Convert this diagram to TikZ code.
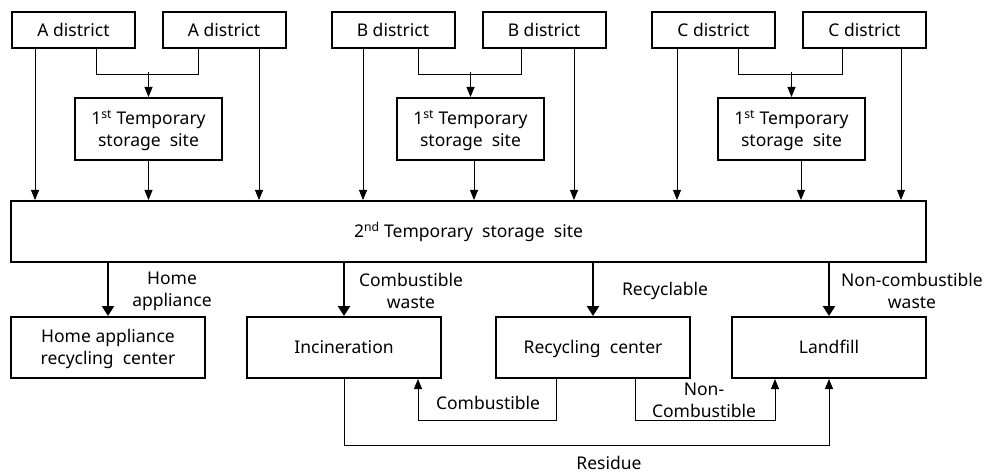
\documentclass[tikz,border=0pt]{standalone}
\usepackage{fontspec}
\setmainfont{Noto Sans}
\usetikzlibrary{arrows.meta}
\begin{document}
\begin{tikzpicture}[x=1pt,y=-1pt,
  every node/.style={font=\fontsize{17.5}{22}\selectfont},
  box/.style={draw,line width=2pt,inner sep=0pt,align=center,minimum height=36pt},
  one/.style={text height=14pt,text depth=1.5pt},
  two/.style={text depth=0.5pt},
  dist/.style={box,one,minimum width=123pt,minimum height=36pt},
  first/.style={box,two,minimum width=147pt,minimum height=62pt},
  dest/.style={box,minimum width=194pt,minimum height=61pt},
  lbl/.style={align=center,inner sep=0pt},
  thinarr/.style={line width=0.9pt,-{Triangle[length=10pt,width=8pt]}},
  thickarr/.style={line width=2.4pt,-{Triangle[length=10pt,width=12pt]}},
  conn/.style={line width=0.9pt}]
\useasboundingbox (0,0) rectangle (988,473);
% districts
\node[dist] (A1) at (73.5,30) {A district};
\node[dist] (A2) at (224,30) {A district};
\node[dist] (B1) at (393,30) {B district};
\node[dist] (B2) at (544,30) {B district};
\node[dist] (C1) at (713.5,30) {C district};
\node[dist] (C2) at (864.5,30) {C district};
% first storage
\node[first] (SA) at (148.5,129) {1\textsuperscript{st} Temporary\\storage\ \ site};
\node[first] (SB) at (470.5,129) {1\textsuperscript{st} Temporary\\storage\ \ site};
\node[first] (SC) at (791.5,129) {1\textsuperscript{st} Temporary\\storage\ \ site};
% second storage
\node[box,one,minimum width=915pt,minimum height=61pt] (S2) at (468.5,231.5) {2\textsuperscript{nd} Temporary\ \ storage\ \ site};
% destinations
\node[dest,two] (H) at (108,347.5) {Home appliance\\recycling\ \ center};
\node[dest,one] (I) at (344,347.5) {Incineration};
\node[dest,one] (R) at (593,347.5) {Recycling\ \ center};
\node[dest,one] (L) at (829,347.5) {Landfill};
% A group
\draw[thinarr] ([xshift=-38.5pt]A1.south) -- ([xshift=-38.5pt]A1.south |- S2.north);
\draw[thinarr] ([xshift=35pt]A2.south) -- ([xshift=35pt]A2.south |- S2.north);
\draw[conn] ([xshift=22.5pt]A1.south) -- ++(0,25) -| ([xshift=-26pt]A2.south);
\draw[thinarr] ([yshift=25pt]SA.north) -- (SA.north);
\draw[thinarr] (SA.south) -- (SA.south |- S2.north);
% B group
\draw[thinarr] ([xshift=-30pt]B1.south) -- ([xshift=-30pt]B1.south |- S2.north);
\draw[thinarr] ([xshift=30pt]B2.south) -- ([xshift=30pt]B2.south |- S2.north);
\draw[conn] ([xshift=25pt]B1.south) -- ++(0,25) -| ([xshift=-23pt]B2.south);
\draw[thinarr] ([yshift=25pt]SB.north) -- (SB.north);
\draw[thinarr] ([xshift=3.5pt]SB.south) -- ([xshift=3.5pt]SB.south |- S2.north);
% C group
\draw[thinarr] ([xshift=-36.5pt]C1.south) -- ([xshift=-36.5pt]C1.south |- S2.north);
\draw[thinarr] ([xshift=36.5pt]C2.south) -- ([xshift=36.5pt]C2.south |- S2.north);
\draw[conn] ([xshift=24.5pt]C1.south) -- ++(0,25) -| ([xshift=-22.5pt]C2.south);
\draw[thinarr] ([yshift=25pt]SC.north) -- (SC.north);
\draw[thinarr] ([xshift=9.5pt]SC.south) -- ([xshift=9.5pt]SC.south |- S2.north);
% second storage to destinations
\draw[thickarr] (S2.south -| H.north) -- (H.north);
\draw[thickarr] (S2.south -| I.north) -- (I.north);
\draw[thickarr] (S2.south -| R.north) -- (R.north);
\draw[thickarr] (S2.south -| L.north) -- (L.north);
\node[lbl] (lh) at (172,291) {Home\\appliance};
\node[lbl] (lc) at (411,291) {Combustible\\waste};
\node[lbl] (lr) at (665,291) {Recyclable};
\node[lbl] (ln) at (912,291) {Non-combustible\\waste};
% bottom flows
\draw[thinarr] ([xshift=-37pt]R.south) |- ([xshift=74pt,yshift=-41pt]I.south) -- ([xshift=74pt]I.south);
\draw[thinarr] ([xshift=42pt]R.south) |- ([xshift=-54pt,yshift=-41pt]L.south) -- ([xshift=-54pt]L.south);
\draw[thinarr] (I.south) |- ([yshift=-66pt]L.south) -- (L.south);
\node[lbl] (lcb) at (488,403) {Combustible};
\node[lbl] (lnc) at (704,400) {Non-\\Combustible};
\node[lbl] (lres) at (609,463) {Residue};
\end{tikzpicture}
\end{document}
